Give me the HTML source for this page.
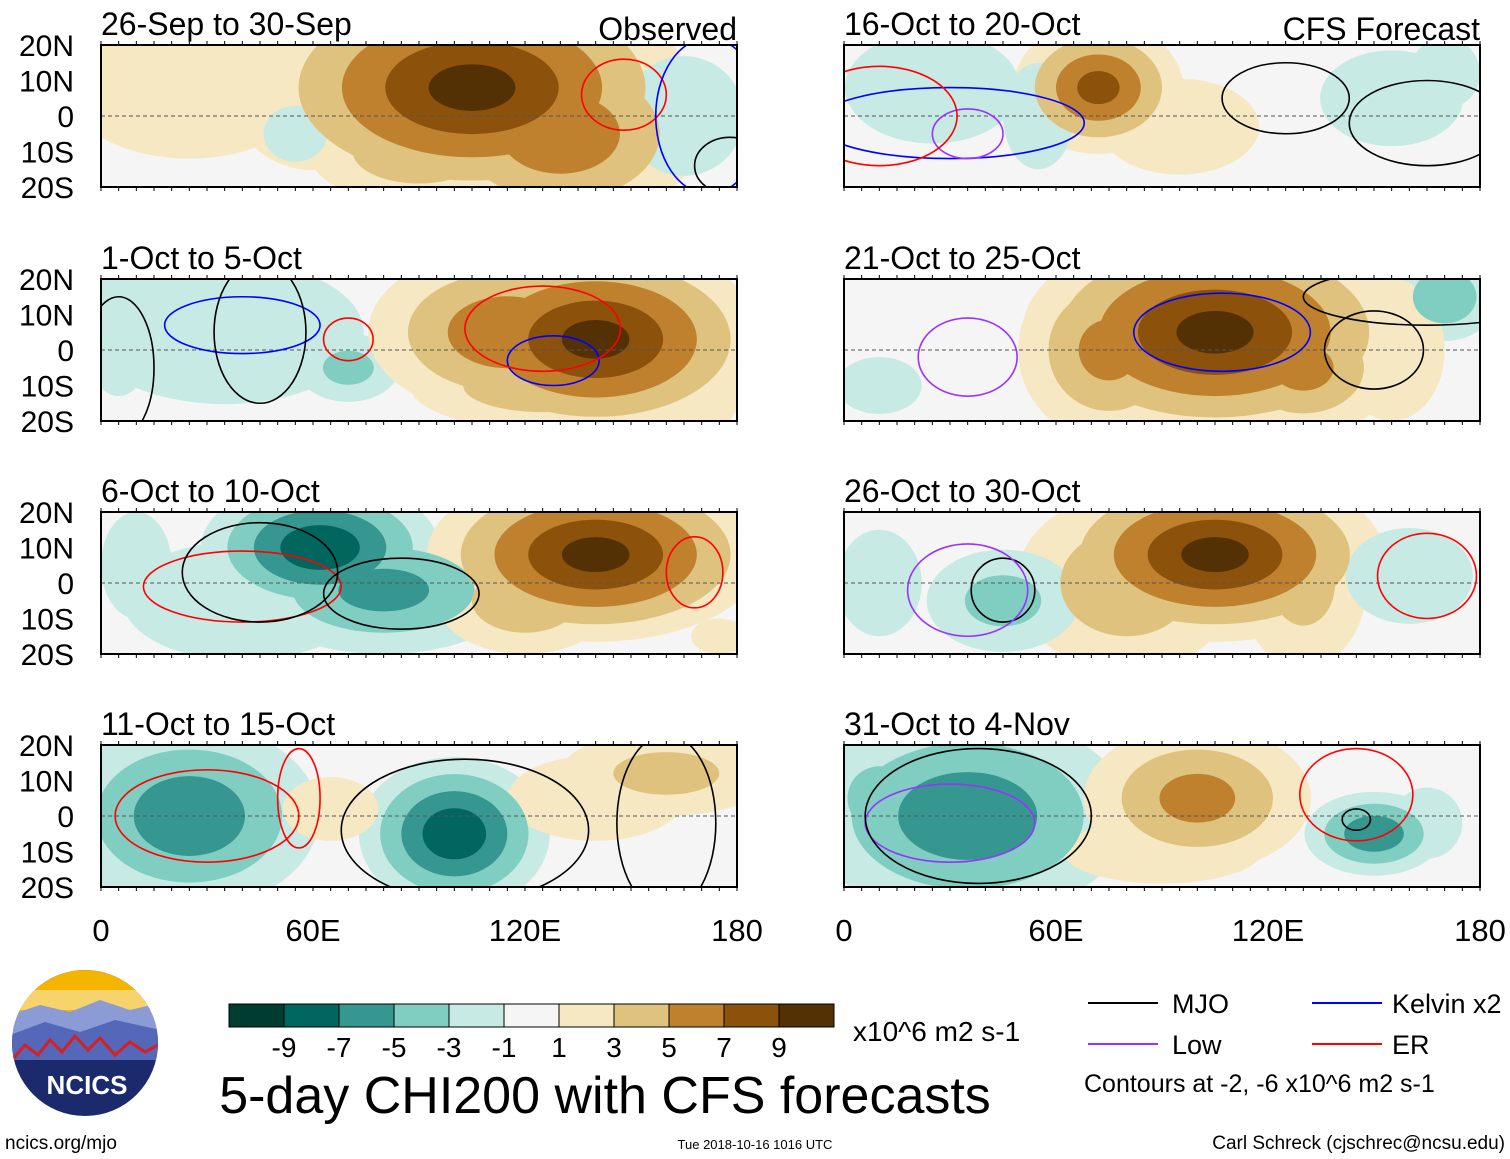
<!DOCTYPE html>
<html><head><meta charset="utf-8">
<style>
html,body{margin:0;padding:0;background:#fff;}
svg{display:block;font-family:"Liberation Sans",Arial,sans-serif;}
</style></head>
<body>
<svg id="chart" width="1510" height="1159" viewBox="0 0 1510 1159" xmlns="http://www.w3.org/2000/svg">
<rect width="1510" height="1159" fill="#fff"/>
<g id="panels"></g>
<g id="colorbar"></g>
<g>
  <clipPath id="logoclip"><circle cx="85" cy="1043" r="73"/></clipPath>
  <g clip-path="url(#logoclip)">
    <rect x="10" y="968" width="150" height="150" fill="#1a2a6c"/>
    <rect x="10" y="968" width="150" height="45" fill="#f4b400"/>
    <rect x="10" y="990" width="150" height="20" fill="#f7d36b"/>
    <path d="M10 1015 L40 1005 L70 1012 L100 1000 L130 1010 L160 1003 L160 1040 L10 1040Z" fill="#8a9bd6"/>
    <path d="M10 1035 L45 1022 L80 1032 L115 1020 L160 1030 L160 1060 L10 1060Z" fill="#5567b8"/>
    <path d="M12 1060 L25 1045 L38 1055 L50 1040 L62 1052 L75 1036 L88 1050 L100 1038 L115 1055 L130 1042 L145 1052 L158 1045" fill="none" stroke="#d62020" stroke-width="3"/>
  </g>
  <text x="87" y="1094" font-size="26" font-weight="bold" fill="#fff" text-anchor="middle">NCICS</text>
</g>
<text x="5" y="1149" font-size="19">ncics.org/mjo</text>
<text x="755" y="1149" font-size="13" text-anchor="middle">Tue 2018-10-16 1016 UTC</text>
<text x="1505" y="1149" font-size="19" text-anchor="end">Carl Schreck (cjschrec@ncsu.edu)</text>
<text x="605" y="1113" font-size="52" text-anchor="middle">5-day CHI200 with CFS forecasts</text>
<text x="853" y="1041" font-size="28">x10^6 m2 s-1</text>
<g font-size="27">
  <line x1="1088" y1="1003" x2="1158" y2="1003" stroke="#000" stroke-width="2"/><text x="1172" y="1013">MJO</text>
  <line x1="1312" y1="1003" x2="1382" y2="1003" stroke="#0000ff" stroke-width="2"/><text x="1392" y="1013">Kelvin x2</text>
  <line x1="1088" y1="1044" x2="1158" y2="1044" stroke="#9933ff" stroke-width="2"/><text x="1172" y="1054">Low</text>
  <line x1="1312" y1="1044" x2="1382" y2="1044" stroke="#ff0000" stroke-width="2"/><text x="1392" y="1054">ER</text>
  <text x="1084" y="1092" font-size="25">Contours at -2, -6 x10^6 m2 s-1</text>
</g>
</svg>
<script>
const NS="http://www.w3.org/2000/svg";
const levels=[-9,-7,-5,-3,-1,1,3,5,7,9];
const colors=["#003c30","#01665e","#35978f","#80cdc1","#c7eae5","#f5f5f5","#f6e8c3","#dfc27d","#bf812d","#8c510a","#543005"];
const latTicks=[20,10,0,-10,-20];
const latLabels=["20N","10N","0","10S","20S"];
const lonTicks=[0,60,120,180];
const lonLabels=["0","60E","120E","180"];
const titles=["26-Sep to 30-Sep","1-Oct to 5-Oct","6-Oct to 10-Oct","11-Oct to 15-Oct","16-Oct to 20-Oct","21-Oct to 25-Oct","26-Oct to 30-Oct","31-Oct to 4-Nov"];
// anomaly blobs per panel: [lon, lat, value, lonRadius, latRadius]
const blobs0=[[25,8,2,35,20],[60,5,3,20,18],[105,8,10,45,24],[130,-5,7,30,20],[90,-10,5,25,12],[165,0,-3,15,15],[55,-5,-3,8,7]];
const blobs1=[[35,5,-3,35,18],[70,-5,-4,12,8],[140,3,10,35,20],[115,5,7,30,18],[125,-10,5,30,10],[170,0,3,12,22],[5,5,-2,10,18]];
const blobs2=[[62,10,-9,25,14],[80,-2,-6,30,14],[40,-5,-3,30,15],[140,8,10,35,18],[120,-5,5,20,12],[175,-15,2,8,5],[10,5,-2,10,15]];
const blobs3=[[25,0,-7,28,20],[100,-5,-9,20,16],[65,2,3,12,8],[160,12,4,25,10],[140,5,2,25,12],[5,-15,-3,10,6]];
const blobs4=[[72,8,8,18,14],[25,8,-3,22,14],[55,0,-2,10,15],[155,5,-3,18,12],[170,12,-2,10,10],[95,-3,3,20,12],[125,0,1,15,20]];
const blobs5=[[105,5,10,40,22],[75,0,6,20,20],[130,-5,6,20,15],[170,15,-5,12,10],[10,-10,-2,12,8],[155,0,2,15,20]];
const blobs6=[[105,8,10,35,18],[80,0,5,25,20],[130,0,4,15,20],[45,-5,-4,18,12],[160,2,-3,16,12],[10,0,-2,12,15]];
const blobs7=[[35,0,-7,35,22],[10,5,-4,15,15],[100,5,6,25,16],[90,-10,3,25,8],[150,-5,-7,15,9],[165,-2,-2,10,10]];
const allBlobs=[blobs0,blobs1,blobs2,blobs3,blobs4,blobs5,blobs6,blobs7];
// contours: [lon, lat, lonRadius, latRadius, colorKey]
const cont0=[[148,6,12,10,"ER"],[172,0,15,22,"K"],[178,-14,10,8,"M"]];
const cont1=[[40,7,22,8,"K"],[45,5,13,20,"M"],[70,3,7,6,"ER"],[128,-3,13,7,"K"],[125,6,22,12,"ER"],[5,-5,10,20,"M"]];
const cont2=[[40,-1,28,10,"ER"],[85,-3,22,10,"M"],[45,3,22,14,"M"],[168,3,8,10,"ER"]];
const cont3=[[30,0,26,13,"ER"],[103,-4,35,20,"M"],[56,5,6,14,"ER"],[160,-2,14,25,"M"]];
const cont4=[[125,5,18,10,"M"],[30,-2,38,10,"K"],[35,-5,10,7,"Lo"],[10,0,22,14,"ER"],[165,-2,22,12,"M"]];
const cont5=[[107,5,25,11,"K"],[35,-2,14,11,"Lo"],[150,0,14,11,"M"],[165,15,35,8,"M"]];
const cont6=[[45,-2,9,9,"M"],[35,-2,17,13,"Lo"],[165,2,14,12,"ER"]];
const cont7=[[145,6,16,13,"ER"],[145,-1,4,3,"M"],[30,-2,24,11,"Lo"],[38,0,32,19,"M"]];
const allCont=[cont0,cont1,cont2,cont3,cont4,cont5,cont6,cont7];
const ccol={M:"#000",K:"#0000ff",Lo:"#9933ff",ER:"#ff0000"};
const W=636,H=142;
const colX=[101,844], rowY=[45,279,512,745];
function colorFor(v){let i=0;while(i<levels.length&&v>levels[i])i++;return colors[i];}
const gp=document.getElementById('panels');
function mk(tag,attrs,parent){const e=document.createElementNS(NS,tag);for(const k in attrs)e.setAttribute(k,attrs[k]);parent.appendChild(e);return e;}
for(let p=0;p<8;p++){
  const x0=colX[p<4?0:1], y0=rowY[p%4];
  const xs=lon=>x0+lon/180*W, ys=lat=>y0+(20-lat)/40*H;
  const g=mk('g',{},gp);
  
  
  const cp=mk('clipPath',{id:'cp'+p},g);
  mk('rect',{x:x0,y:y0,width:W,height:H},cp);
  const inner=mk('g',{'clip-path':'url(#cp'+p+')'},g);
  mk('rect',{x:x0,y:y0,width:W,height:H,fill:"#f5f5f5"},inner);
  const bl=allBlobs[p];
  for(const th of [1,3,5,7,9]){
    for(const b of bl){
      const a=Math.abs(b[2]);
      if(a<=th)continue;
      const f=1-th/(a+1);
      const v=Math.sign(b[2])*(th+1);
      const e=mk('ellipse',{cx:xs(b[0]),cy:ys(b[1]),rx:b[3]/180*W*f*1.5,ry:b[4]/40*H*f*1.5,fill:colorFor(v)},inner);
      
      
    }
  }
  mk('line',{x1:x0,y1:ys(0),x2:x0+W,y2:ys(0),stroke:"#555","stroke-dasharray":"4,3","stroke-width":1},inner);
  for(const c of allCont[p]){
    const e=mk('ellipse',{cx:xs(c[0]),cy:ys(c[1]),rx:c[2]/180*W,ry:c[3]/40*H,fill:"none",stroke:ccol[c[4]],"stroke-width":1.6},inner);
    
    
  }
  mk('rect',{x:x0,y:y0,width:W,height:H,fill:"none",stroke:"#000","stroke-width":2},g);
  for(let t=0;t<=36;t++){const xx=x0+t*W/36;mk('line',{x1:xx,y1:y0-4,x2:xx,y2:y0,stroke:"#000"},g);mk('line',{x1:xx,y1:y0+H,x2:xx,y2:y0+H+4,stroke:"#000"},g);}
  const t=mk('text',{x:x0,y:y0-10,"font-size":32},g);t.textContent=titles[p];
  
  
  if(p%4===0){const s=mk('text',{x:x0+W,y:y0-5,"font-size":32,"text-anchor":"end"},g);s.textContent=p===0?"Observed":"CFS Forecast";
    
    }
  if(p<4){latTicks.forEach((lt,i)=>{const l=mk('text',{x:74,y:ys(lt)+11,"font-size":30,"text-anchor":"end"},g);l.textContent=latLabels[i];
    
    });}
  if(p%4===3){lonTicks.forEach((ln,i)=>{const l=mk('text',{x:xs(ln),y:941,"font-size":31,"text-anchor":"middle"},g);l.textContent=lonLabels[i];
    
    });}
}
const cb=document.getElementById('colorbar');
for(let i=0;i<11;i++){const r=mk('rect',{x:229+i*55,y:1004,width:55,height:23,fill:colors[i],stroke:"#000","stroke-width":1},cb);
  
  }
levels.forEach((lv,i)=>{const l=mk('text',{x:284+i*55,y:1057,"font-size":28,"text-anchor":"middle"},cb);l.textContent=lv;
  
  });
</script>
</body></html>
